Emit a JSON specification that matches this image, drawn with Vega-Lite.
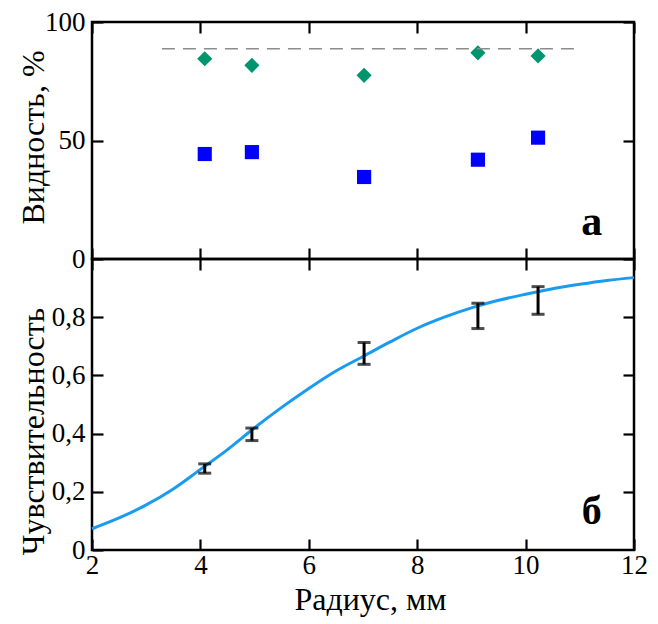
{
  "$schema": "https://vega.github.io/schema/vega-lite/v6.json",
  "padding": {"left": 15, "top": 6, "right": 5, "bottom": 5},
  "background": "white",
  "bounds": "flush",
  "spacing": 0,
  "config": {
    "view": {"stroke": "black", "strokeWidth": 2.5},
    "font": "Liberation Serif",
    "axis": {
      "grid": false,
      "domain": false,
      "tickColor": "black",
      "tickWidth": 2.2,
      "tickSize": -11,
      "labelColor": "black",
      "labelFont": "Liberation Serif",
      "labelFontSize": 27,
      "labelFlush": false,
      "labelBound": false,
      "labelOverlap": false,
      "titleFont": "Liberation Serif",
      "titleFontSize": 32,
      "titleFontWeight": "normal",
      "titleColor": "black"
    }
  },
  "vconcat": [
    {
      "width": 542,
      "height": 237,
      "layer": [
        {
          "data": {"values": [
            {"r": 4.08, "v": 84.5, "series": "d"},
            {"r": 4.95, "v": 81.7, "series": "d"},
            {"r": 7.02, "v": 77.5, "series": "d"},
            {"r": 9.12, "v": 87.0, "series": "d"},
            {"r": 10.23, "v": 85.7, "series": "d"},
            {"r": 4.08, "v": 44.3, "series": "s"},
            {"r": 4.95, "v": 45.1, "series": "s"},
            {"r": 7.02, "v": 34.6, "series": "s"},
            {"r": 9.12, "v": 41.9, "series": "s"},
            {"r": 10.23, "v": 51.2, "series": "s"}
          ]},
          "mark": {"type": "point", "filled": true, "opacity": 1, "strokeWidth": 0},
          "encoding": {
            "x": {"field": "r", "type": "quantitative",
              "scale": {"domain": [2, 12], "nice": false, "zero": false},
              "axis": {"orient": "bottom", "labels": false, "title": null, "values": [2, 4, 6, 8, 10, 12]}},
            "y": {"field": "v", "type": "quantitative",
              "scale": {"domain": [0, 100], "nice": false},
              "axis": {"orient": "left", "values": [0, 50, 100], "title": "Видность, %", "labelPadding": 18,
                "titleX": -49, "titleY": 115, "titleAngle": -90, "titleBaseline": "alphabetic", "titleAlign": "center"}},
            "shape": {"field": "series", "type": "nominal", "scale": {"domain": ["d", "s"], "range": ["diamond", "square"]}, "legend": null},
            "color": {"field": "series", "type": "nominal", "scale": {"domain": ["d", "s"], "range": ["#00956F", "#0000FF"]}, "legend": null},
            "size": {"field": "series", "type": "nominal", "scale": {"domain": ["d", "s"], "range": [230, 200]}, "legend": null}
          }
        },
        {
          "data": {"values": [{"x1": 3.29, "x2": 11.04, "y": 88.7}]},
          "mark": {"type": "rule", "color": "#8c8c8c", "strokeWidth": 1.6, "strokeDash": [13, 8]},
          "encoding": {
            "x": {"field": "x1", "type": "quantitative",
              "axis": {"orient": "top", "labels": false, "title": null, "values": [2, 4, 6, 8, 10, 12]}},
            "x2": {"field": "x2"},
            "y": {"field": "y", "type": "quantitative",
              "axis": {"orient": "right", "labels": false, "title": null, "values": [0, 50, 100]}}
          }
        },
        {
          "data": {"values": [{"x": 11.22, "y": 10.1, "label": "а"}]},
          "mark": {"type": "text", "font": "Liberation Serif", "fontSize": 42, "fontWeight": "bold", "baseline": "alphabetic", "align": "center", "color": "black"},
          "encoding": {
            "x": {"field": "x", "type": "quantitative", "axis": null},
            "y": {"field": "y", "type": "quantitative", "axis": null},
            "text": {"field": "label"}
          }
        }
      ],
      "resolve": {"axis": {"x": "independent", "y": "independent"}}
    },
    {
      "width": 542,
      "height": 291,
      "layer": [
        {
          "data": {"values": [
            {"r": 2.0, "s": 0.073},
            {"r": 2.5, "s": 0.11},
            {"r": 3.0, "s": 0.155},
            {"r": 3.5, "s": 0.21},
            {"r": 4.0, "s": 0.277},
            {"r": 4.5, "s": 0.345},
            {"r": 5.0, "s": 0.42},
            {"r": 5.5, "s": 0.49},
            {"r": 6.0, "s": 0.555},
            {"r": 6.5, "s": 0.615},
            {"r": 7.0, "s": 0.665},
            {"r": 7.5, "s": 0.715},
            {"r": 8.0, "s": 0.762},
            {"r": 8.5, "s": 0.8},
            {"r": 9.0, "s": 0.832},
            {"r": 9.5, "s": 0.858},
            {"r": 10.0, "s": 0.879},
            {"r": 10.5, "s": 0.898},
            {"r": 11.0, "s": 0.913},
            {"r": 11.5, "s": 0.926},
            {"r": 12.0, "s": 0.936}
          ]},
          "mark": {"type": "line", "color": "#1A9BF0", "strokeWidth": 3, "interpolate": "monotone"},
          "encoding": {
            "x": {"field": "r", "type": "quantitative",
              "scale": {"domain": [2, 12], "nice": false, "zero": false},
              "axis": {"orient": "bottom", "values": [2, 4, 6, 8, 10, 12], "title": "Радиус, мм", "labelPadding": 13,
                "titleX": 278, "titleY": 59, "titleBaseline": "alphabetic", "titleAlign": "center"}},
            "y": {"field": "s", "type": "quantitative",
              "scale": {"domain": [0, 1], "nice": false},
              "axis": {"orient": "left", "values": [0, 0.2, 0.4, 0.6, 0.8], "title": "Чувствительность", "labelPadding": 18,
                "labelExpr": "datum.value == 0 ? '0' : replace(format(datum.value, '.1f'), '.', ',')",
                "titleX": -49, "titleY": 172, "titleAngle": -90, "titleBaseline": "alphabetic", "titleAlign": "center"}}
          }
        },
        {
          "data": {"name": "err", "values": [
            {"r": 4.08, "lo": 0.264, "hi": 0.296},
            {"r": 4.95, "lo": 0.376, "hi": 0.419},
            {"r": 7.02, "lo": 0.638, "hi": 0.713},
            {"r": 9.12, "lo": 0.761, "hi": 0.848},
            {"r": 10.23, "lo": 0.81, "hi": 0.905}
          ]},
          "mark": {"type": "rule", "color": "black", "strokeWidth": 3},
          "encoding": {
            "x": {"field": "r", "type": "quantitative",
              "axis": {"orient": "top", "labels": false, "title": null, "values": [2, 4, 6, 8, 10, 12]}},
            "y": {"field": "lo", "type": "quantitative",
              "axis": {"orient": "right", "labels": false, "title": null, "values": [0.2, 0.4, 0.6, 0.8]}},
            "y2": {"field": "hi"}
          }
        },
        {
          "data": {"name": "err"},
          "mark": {"type": "tick", "color": "black", "orient": "horizontal", "size": 13, "thickness": 3},
          "encoding": {
            "x": {"field": "r", "type": "quantitative", "axis": null},
            "y": {"field": "lo", "type": "quantitative", "axis": null}
          }
        },
        {
          "data": {"name": "err"},
          "mark": {"type": "tick", "color": "black", "orient": "horizontal", "size": 13, "thickness": 3},
          "encoding": {
            "x": {"field": "r", "type": "quantitative", "axis": null},
            "y": {"field": "hi", "type": "quantitative", "axis": null}
          }
        },
        {
          "data": {"values": [{"x": 11.22, "y": 0.09, "label": "б"}]},
          "mark": {"type": "text", "font": "Liberation Serif", "fontSize": 40, "fontWeight": "bold", "baseline": "alphabetic", "align": "center", "color": "black"},
          "encoding": {
            "x": {"field": "x", "type": "quantitative", "axis": null},
            "y": {"field": "y", "type": "quantitative", "axis": null},
            "text": {"field": "label"}
          }
        }
      ],
      "resolve": {"axis": {"x": "independent", "y": "independent"}}
    }
  ]
}
